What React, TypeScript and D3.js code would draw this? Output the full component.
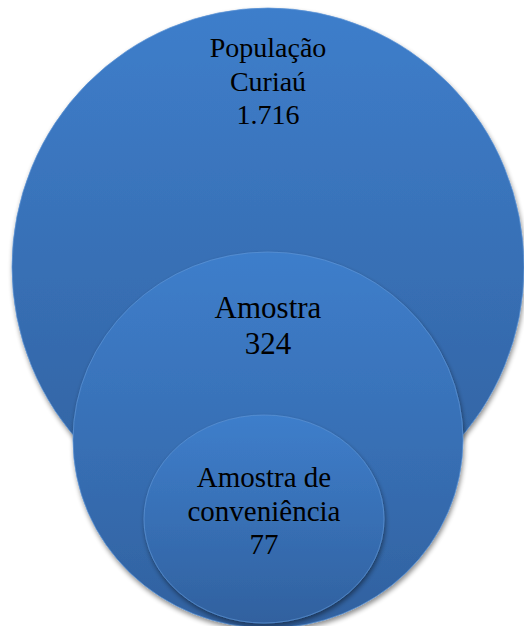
import { useMemo } from 'react';
import * as d3 from 'd3';

// Nested "stacked Venn" levels, outermost first
const levels = ['População Curiaú', 'Amostra', 'Amostra de conveniência'];
const counts = [1716, 324, 77];
const labelLines = [
  ['População', 'Curiaú', '1.716'],
  ['Amostra', '324'],
  ['Amostra de', 'conveniência', '77'],
];

const W = 524;
const H = 626;
const SERIF = '"Liberation Serif", "Times New Roman", serif';

export default function App(): React.ReactNode {
  const shapes = useMemo(() => {
    // size of each ring relative to the outer one (SmartArt layout, not proportional)
    const rxScale = d3.scaleOrdinal<number, number>().domain([0, 1, 2]).range([256, 195, 120]);
    const ryScale = d3.scaleOrdinal<number, number>().domain([0, 1, 2]).range([259, 188, 104]);
    const cxScale = d3.scaleOrdinal<number, number>().domain([0, 1, 2]).range([268, 268, 264]);
    const cyScale = d3.scaleOrdinal<number, number>().domain([0, 1, 2]).range([267, 440, 519]);
    const fontScale = d3.scaleOrdinal<number, number>().domain([0, 1, 2]).range([28, 31, 29]);
    const firstBase = d3.scaleOrdinal<number, number>().domain([0, 1, 2]).range([57, 318, 487]);
    const lineH = d3.scaleOrdinal<number, number>().domain([0, 1, 2]).range([33.5, 36, 33.5]);
    return levels.map((name, i) => ({
      name,
      count: counts[i],
      lines: labelLines[i],
      cx: cxScale(i),
      cy: cyScale(i),
      rx: rxScale(i),
      ry: ryScale(i),
      font: fontScale(i),
      base: firstBase(i),
      lh: lineH(i),
    }));
  }, []);

  return (
    <div style={{ position: 'absolute', left: 0, top: 0 }}>
      <svg width={W} height={H} viewBox={`0 0 ${W} ${H}`} style={{ display: 'block' }}>
        <defs>
          <linearGradient id="blueFill" x1="0" y1="0" x2="0" y2="1">
            <stop offset="0%" stopColor="#3e7ecb" />
            <stop offset="100%" stopColor="#31619f" />
          </linearGradient>
          <filter id="shadow" x="-10%" y="-10%" width="120%" height="125%">
            <feGaussianBlur in="SourceAlpha" stdDeviation="2.5" />
            <feOffset dx="1" dy="3" result="b" />
            <feComponentTransfer>
              <feFuncA type="linear" slope="0.45" />
            </feComponentTransfer>
            <feMerge>
              <feMergeNode />
              <feMergeNode in="SourceGraphic" />
            </feMerge>
          </filter>
        </defs>
        {shapes.map((s) => (
          <ellipse
            key={s.name}
            cx={s.cx}
            cy={s.cy}
            rx={s.rx}
            ry={s.ry}
            fill="url(#blueFill)"
            stroke="#5d94d6"
            strokeOpacity={0.7}
            strokeWidth={1}
            filter="url(#shadow)"
          />
        ))}
        {shapes.map((s) => (
          <text
            key={s.name + '-t'}
            textAnchor="middle"
            style={{ fontFamily: SERIF, fontSize: s.font }}
            fill="#000"
          >
            {s.lines.map((ln, j) => (
              <tspan key={j} x={s.cx} y={s.base + j * s.lh}>
                {ln}
              </tspan>
            ))}
          </text>
        ))}
      </svg>
    </div>
  );
}
